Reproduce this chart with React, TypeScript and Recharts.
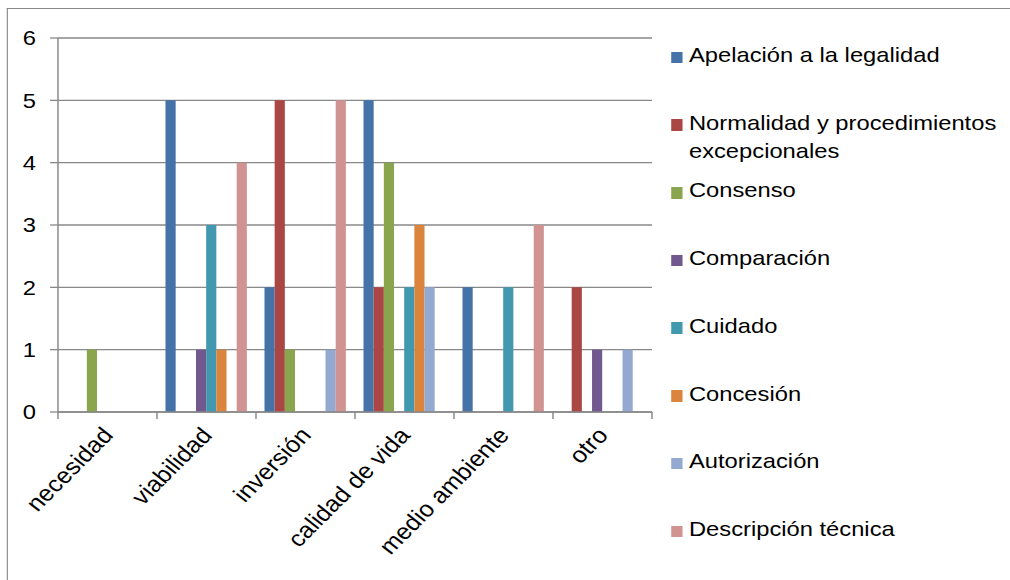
import React from "react";
import { BarChart, Bar, XAxis, YAxis, CartesianGrid } from "recharts";

const categories = ["necesidad", "viabilidad", "inversión", "calidad de vida", "medio ambiente", "otro"];

const apelacion = [0, 5, 2, 5, 2, 0];
const normalidad = [0, 0, 5, 2, 0, 2];
const consenso = [1, 0, 1, 4, 0, 0];
const comparacion = [0, 1, 0, 0, 0, 1];
const cuidado = [0, 3, 0, 2, 2, 0];
const concesion = [0, 1, 0, 3, 0, 0];
const autorizacion = [0, 0, 1, 2, 0, 1];
const descripcion = [0, 4, 5, 0, 3, 0];

const yTicks = [0, 1, 2, 3, 4, 5, 6];

const series = [
  { key: "apelacion", name: "Apelación a la legalidad", values: apelacion, color: "#4572A7" },
  { key: "normalidad", name: "Normalidad y procedimientos excepcionales", values: normalidad, color: "#AA4643" },
  { key: "consenso", name: "Consenso", values: consenso, color: "#89A54E" },
  { key: "comparacion", name: "Comparación", values: comparacion, color: "#71588F" },
  { key: "cuidado", name: "Cuidado", values: cuidado, color: "#4198AF" },
  { key: "concesion", name: "Concesión", values: concesion, color: "#DB843D" },
  { key: "autorizacion", name: "Autorización", values: autorizacion, color: "#93A9CF" },
  { key: "descripcion", name: "Descripción técnica", values: descripcion, color: "#D19392" },
];

const data = categories.map((name, i) => {
  const row: Record<string, string | number> = { name };
  series.forEach((s) => (row[s.key] = s.values[i]));
  return row;
});

// the reference is stretched horizontally, so draw narrower and scale
const S = 1.13;
const W = Math.round(1010 / S);
const H = 580;
const PLOT_LEFT = 51.3;
const PLOT_RIGHT = 577;
const BAND = (PLOT_RIGHT - PLOT_LEFT) / categories.length;
const GRID = "#888888";
const FONT = "'Liberation Sans', Arial, sans-serif";
const ANGLE = -48.5; // shows as 45deg after the stretch

function CatTick(props: any) {
  const { x, y, payload, index } = props;
  const ax = x + 6;
  const ay = y + 24;
  return (
    <g>
      <line x1={x - BAND / 2} y1={y} x2={x - BAND / 2} y2={y + 7} stroke={GRID} strokeWidth={1.3} />
      {index === categories.length - 1 && (
        <line x1={x + BAND / 2} y1={y} x2={x + BAND / 2} y2={y + 7} stroke={GRID} strokeWidth={1.3} />
      )}
      <text x={ax} y={ay} textAnchor="end" transform={`rotate(${ANGLE}, ${ax}, ${ay})`} fill="#000" fontSize={22.5} fontFamily={FONT}>
        {payload.value}
      </text>
    </g>
  );
}

export default function App() {
  return (
    <div style={{ position: "absolute", left: 0, top: 0, width: 1010, height: H, overflow: "hidden", background: "#fff" }}>
      <div style={{ position: "absolute", left: 0, top: 0, width: W, height: H, transform: `scaleX(${S})`, transformOrigin: "0 0" }}>
        <div
          style={{
            position: "absolute",
            left: 6.2,
            top: 8,
            width: W,
            height: H,
            borderLeft: `1.3px solid ${GRID}`,
            borderTop: `1.3px solid ${GRID}`,
          }}
        />
        <div style={{ position: "absolute", left: 0, top: 0 }}>
          <BarChart
            width={W}
            height={H}
            data={data}
            margin={{ top: 38, right: W - PLOT_RIGHT, left: 0, bottom: 0 }}
            barCategoryGap="8.6%"
            barGap={0}
          >
            <CartesianGrid vertical={false} stroke={GRID} strokeWidth={1.3} />
            <XAxis
              dataKey="name"
              height={168}
              interval={0}
              tickLine={false}
              tickSize={0}
              tickMargin={0}
              axisLine={{ stroke: GRID, strokeWidth: 1.3 }}
              tick={<CatTick />}
            />
            <YAxis
              width={PLOT_LEFT}
              domain={[0, 6]}
              ticks={yTicks}
              interval={0}
              tickSize={7}
              tickMargin={12.4}
              axisLine={{ stroke: GRID, strokeWidth: 1.3 }}
              tickLine={{ stroke: GRID, strokeWidth: 1.3 }}
              tick={{ fill: "#000", fontSize: 21, fontFamily: FONT }}
            />
            {series.map((s) => (
              <Bar key={s.key} dataKey={s.key} name={s.name} fill={s.color} isAnimationActive={false} />
            ))}
          </BarChart>
        </div>

        {/* legend */}
        {series.map((s, i) => (
          <div
            key={s.key}
            style={{
              position: "absolute",
              left: 593.8,
              top: 41 + i * 67.7,
              display: "flex",
              alignItems: "flex-start",
              fontFamily: FONT,
              fontSize: 21,
              lineHeight: "28px",
              color: "#000",
            }}
          >
            <div style={{ width: 10.3, height: 11.6, background: s.color, marginTop: 10.7, marginRight: 5.6, flexShrink: 0 }} />
            <div style={{ width: 290 }}>{s.name}</div>
          </div>
        ))}
      </div>
    </div>
  );
}
